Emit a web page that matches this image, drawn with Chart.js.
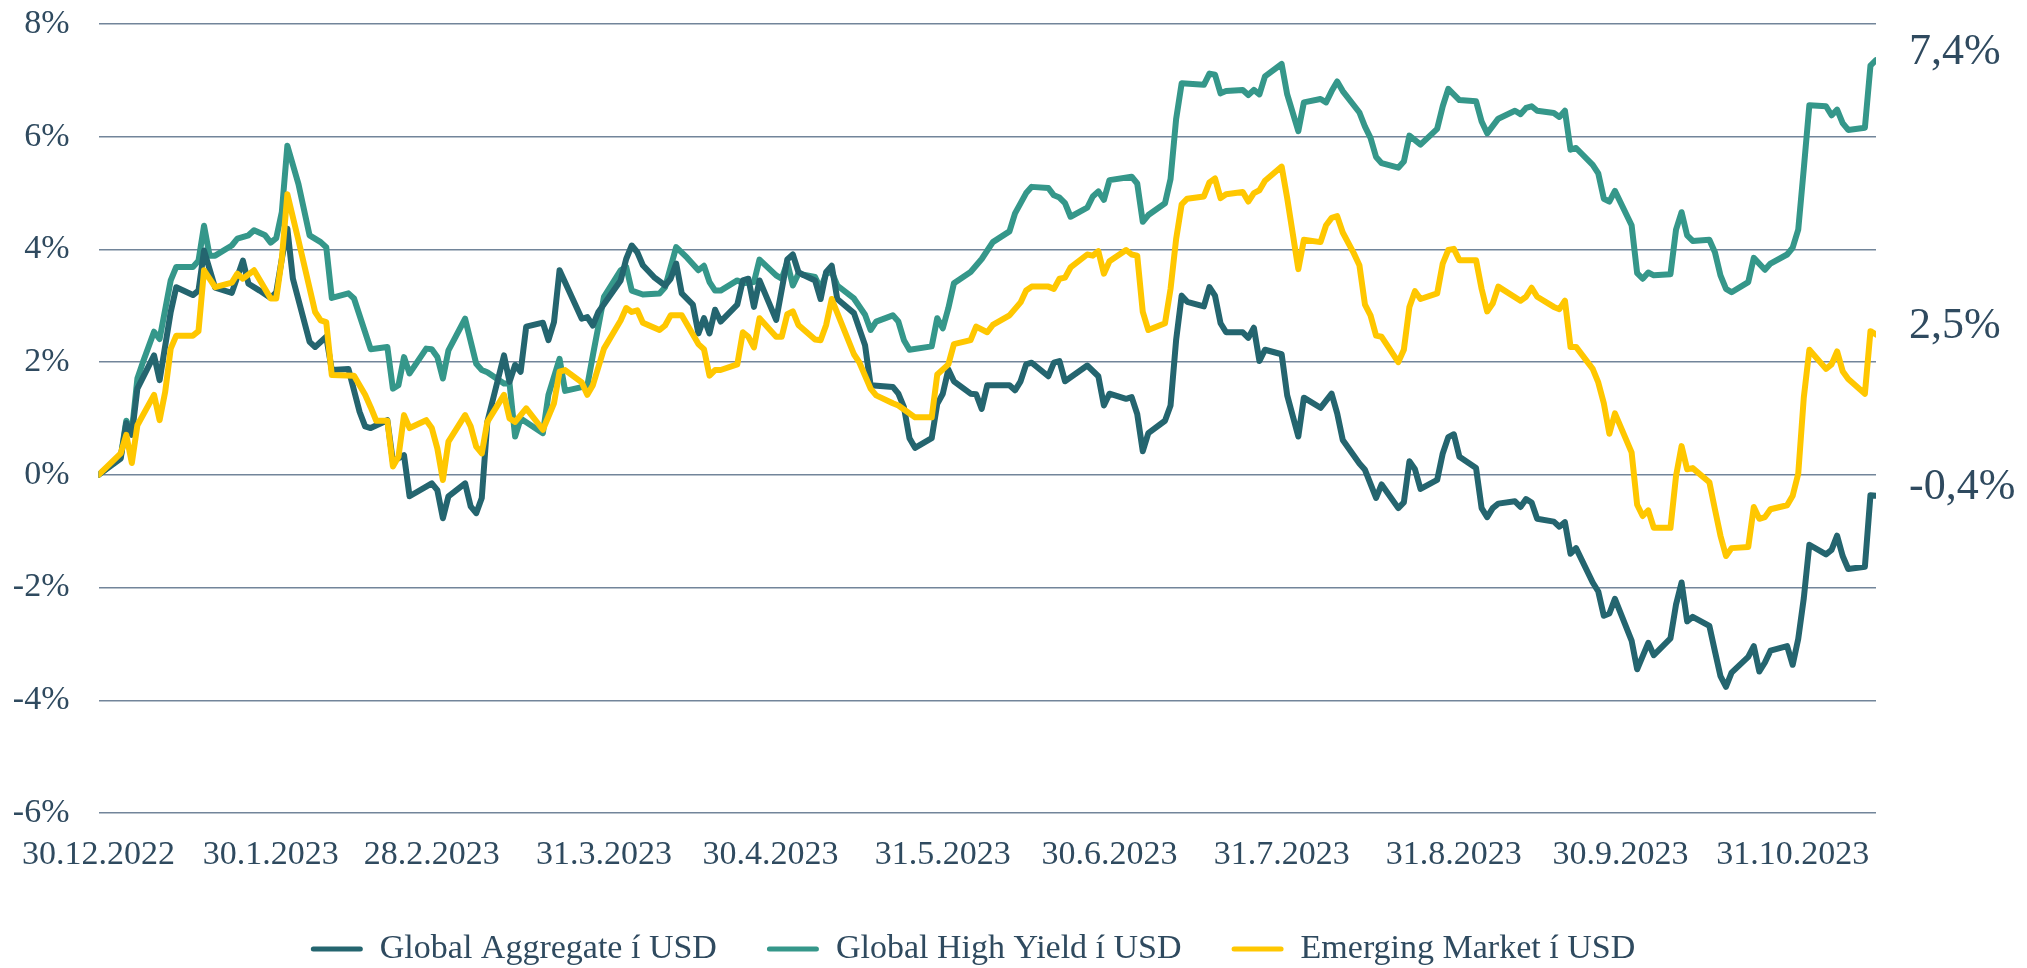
<!DOCTYPE html>
<html>
<head>
<meta charset="utf-8">
<script src="https://cdn.jsdelivr.net/npm/chart.js@4.4.1/dist/chart.umd.min.js"></script>
<style>
  html, body { margin: 0; padding: 0; background: #fff; overflow: hidden; }
</style>
</head>
<body>
<canvas id="chart" width="2027" height="968"></canvas>
<script>
// x = days after 30.12.2022, y = return in %
const globalAggregate = [[0,0],[4,0.29],[5,0.92],[6,0.71],[7,1.53],[10,2.12],[11,1.68],[13,2.89],[14,3.33],[17,3.19],[18,3.27],[19,3.98],[21,3.32],[24,3.23],[26,3.80],[27,3.39],[29,3.27],[31,3.14],[32,3.24],[33,3.83],[34,4.37],[35,3.48],[38,2.36],[39,2.27],[41,2.45],[42,1.86],[45,1.88],[47,1.12],[48,0.86],[49,0.83],[52,0.97],[53,0.24],[55,0.35],[56,-0.38],[60,-0.15],[61,-0.27],[62,-0.77],[63,-0.38],[66,-0.15],[67,-0.56],[68,-0.68],[69,-0.41],[70,0.94],[73,2.12],[74,1.65],[75,1.95],[76,1.83],[77,2.63],[80,2.70],[81,2.39],[82,2.71],[83,3.63],[87,2.77],[88,2.80],[89,2.65],[90,2.89],[94,3.45],[95,3.83],[96,4.07],[97,3.95],[98,3.72],[100,3.51],[102,3.36],[103,3.48],[104,3.75],[105,3.22],[107,3.02],[108,2.51],[109,2.78],[110,2.51],[111,2.93],[112,2.72],[115,3.02],[116,3.45],[117,3.48],[118,2.98],[119,3.45],[122,2.75],[124,3.82],[125,3.91],[126,3.60],[127,3.54],[129,3.45],[130,3.12],[131,3.60],[132,3.71],[133,3.12],[136,2.87],[138,2.30],[139,1.59],[143,1.56],[144,1.44],[145,1.20],[146,0.65],[147,0.48],[150,0.65],[151,1.26],[152,1.44],[153,1.87],[154,1.66],[157,1.44],[158,1.43],[159,1.17],[160,1.59],[164,1.59],[165,1.50],[166,1.66],[167,1.96],[168,1.99],[171,1.75],[172,1.99],[173,2.02],[174,1.66],[178,1.94],[180,1.75],[181,1.23],[182,1.44],[185,1.35],[186,1.38],[187,1.08],[188,0.42],[189,0.74],[192,0.96],[193,1.23],[194,2.39],[195,3.18],[196,3.07],[199,2.99],[200,3.33],[201,3.18],[202,2.69],[203,2.53],[206,2.53],[207,2.43],[208,2.61],[209,2.02],[210,2.22],[213,2.14],[214,1.41],[216,0.68],[217,1.37],[220,1.19],[222,1.44],[223,1.09],[224,0.62],[227,0.20],[228,0.09],[230,-0.41],[231,-0.17],[234,-0.59],[235,-0.49],[236,0.24],[237,0.10],[238,-0.25],[241,-0.09],[242,0.38],[243,0.67],[244,0.72],[245,0.32],[248,0.12],[249,-0.59],[250,-0.75],[251,-0.59],[252,-0.51],[255,-0.47],[256,-0.57],[257,-0.43],[258,-0.49],[259,-0.78],[262,-0.83],[263,-0.92],[264,-0.84],[265,-1.40],[266,-1.30],[269,-1.91],[270,-2.07],[271,-2.50],[272,-2.46],[273,-2.20],[276,-2.94],[277,-3.45],[279,-2.98],[280,-3.20],[283,-2.90],[284,-2.30],[285,-1.91],[286,-2.60],[287,-2.52],[290,-2.68],[291,-3.13],[292,-3.57],[293,-3.76],[294,-3.51],[297,-3.23],[298,-3.04],[299,-3.49],[300,-3.33],[301,-3.12],[304,-3.04],[305,-3.37],[306,-2.91],[307,-2.19],[308,-1.24],[311,-1.41],[312,-1.33],[313,-1.08],[314,-1.44],[315,-1.67],[318,-1.63],[319,-0.36],[320,-0.37]];

const globalHighYield = [[0,0],[4,0.32],[5,0.96],[6,0.77],[7,1.71],[8,2.0],[10,2.54],[11,2.41],[13,3.45],[14,3.69],[17,3.69],[18,3.80],[19,4.42],[20,3.89],[21,3.89],[24,4.07],[25,4.19],[27,4.25],[28,4.34],[30,4.25],[31,4.12],[32,4.2],[33,4.66],[34,5.84],[36,5.16],[38,4.25],[40,4.13],[41,4.04],[42,3.14],[45,3.22],[46,3.13],[49,2.23],[52,2.27],[53,1.53],[54,1.59],[55,2.09],[56,1.80],[59,2.24],[60,2.23],[61,2.09],[62,1.71],[63,2.21],[66,2.77],[68,1.97],[69,1.86],[70,1.82],[73,1.62],[74,1.62],[75,0.68],[76,1.0],[80,0.74],[81,1.42],[83,2.06],[84,1.49],[88,1.58],[89,2.12],[91,3.16],[94,3.63],[95,3.69],[96,3.27],[98,3.20],[101,3.22],[102,3.33],[104,4.04],[106,3.85],[108,3.63],[109,3.71],[110,3.42],[111,3.27],[112,3.27],[115,3.45],[116,3.40],[118,3.42],[119,3.82],[122,3.54],[123,3.48],[124,3.77],[125,3.36],[126,3.57],[129,3.51],[130,3.30],[131,3.57],[132,3.60],[133,3.36],[136,3.13],[138,2.84],[139,2.57],[140,2.72],[143,2.83],[144,2.72],[145,2.39],[146,2.22],[150,2.28],[151,2.78],[152,2.60],[153,2.96],[154,3.40],[157,3.60],[159,3.83],[161,4.13],[164,4.32],[165,4.64],[167,5.0],[168,5.11],[171,5.09],[172,4.96],[173,4.92],[174,4.82],[175,4.58],[178,4.74],[179,4.94],[180,5.03],[181,4.88],[182,5.23],[186,5.29],[187,5.17],[188,4.49],[189,4.61],[192,4.82],[193,5.25],[194,6.31],[195,6.95],[199,6.92],[200,7.12],[201,7.10],[202,6.77],[203,6.81],[206,6.83],[207,6.74],[208,6.83],[209,6.75],[210,7.07],[213,7.29],[214,6.75],[216,6.10],[217,6.61],[220,6.67],[221,6.61],[222,6.81],[223,6.98],[224,6.81],[227,6.43],[228,6.18],[229,5.98],[230,5.64],[231,5.53],[234,5.45],[235,5.56],[236,6.02],[238,5.86],[241,6.14],[242,6.54],[243,6.85],[245,6.65],[248,6.63],[249,6.27],[250,6.06],[252,6.32],[255,6.46],[256,6.40],[257,6.51],[258,6.54],[259,6.46],[262,6.42],[263,6.35],[264,6.46],[265,5.77],[266,5.80],[269,5.50],[270,5.35],[271,4.90],[272,4.85],[273,5.04],[276,4.43],[277,3.58],[278,3.48],[279,3.59],[280,3.54],[283,3.56],[284,4.35],[285,4.66],[286,4.25],[287,4.15],[290,4.17],[291,3.95],[292,3.54],[293,3.30],[294,3.24],[297,3.42],[298,3.85],[300,3.64],[301,3.75],[304,3.91],[305,4.03],[306,4.35],[307,5.43],[308,6.56],[311,6.54],[312,6.38],[313,6.48],[314,6.24],[315,6.12],[318,6.16],[319,7.26],[320,7.36]];

const emergingMarket = [[0,0],[4,0.38],[5,0.71],[6,0.21],[7,0.88],[10,1.42],[11,0.97],[12,1.47],[13,2.24],[14,2.47],[17,2.47],[18,2.55],[19,3.63],[21,3.33],[24,3.41],[25,3.57],[26,3.48],[28,3.63],[31,3.13],[32,3.13],[33,3.83],[34,4.98],[36,4.16],[39,2.89],[40,2.74],[41,2.71],[42,1.77],[46,1.76],[48,1.42],[49,1.20],[50,0.96],[52,0.96],[53,0.15],[54,0.32],[55,1.06],[56,0.83],[59,0.97],[60,0.83],[61,0.47],[62,-0.09],[63,0.59],[66,1.06],[67,0.86],[68,0.50],[69,0.38],[70,0.94],[73,1.42],[74,1.0],[75,0.94],[77,1.18],[80,0.80],[82,1.27],[83,1.83],[84,1.86],[87,1.64],[88,1.42],[89,1.59],[91,2.24],[94,2.74],[95,2.96],[96,2.89],[97,2.92],[98,2.70],[101,2.57],[102,2.65],[103,2.83],[105,2.83],[108,2.32],[109,2.23],[110,1.76],[111,1.86],[112,1.86],[115,1.96],[116,2.53],[117,2.45],[118,2.26],[119,2.78],[122,2.45],[123,2.45],[124,2.85],[125,2.90],[126,2.66],[129,2.40],[130,2.39],[131,2.66],[132,3.12],[136,2.14],[137,1.99],[139,1.53],[140,1.41],[143,1.27],[144,1.23],[147,1.02],[150,1.02],[151,1.78],[153,1.96],[154,2.32],[157,2.39],[158,2.63],[160,2.53],[161,2.66],[164,2.83],[166,3.06],[167,3.27],[168,3.34],[171,3.34],[172,3.30],[173,3.48],[174,3.50],[175,3.68],[178,3.91],[179,3.89],[180,3.97],[181,3.57],[182,3.79],[185,3.99],[186,3.91],[187,3.89],[188,2.89],[189,2.57],[192,2.69],[193,3.30],[194,4.18],[195,4.80],[196,4.90],[199,4.94],[200,5.19],[201,5.26],[202,4.91],[203,4.98],[206,5.02],[207,4.85],[208,5.0],[209,5.05],[210,5.22],[213,5.47],[214,4.91],[216,3.65],[217,4.17],[220,4.13],[221,4.43],[222,4.56],[223,4.59],[224,4.30],[226,3.93],[227,3.72],[228,3.02],[229,2.83],[230,2.47],[231,2.45],[234,2.0],[235,2.22],[236,2.98],[237,3.26],[238,3.12],[241,3.22],[242,3.75],[243,3.99],[244,4.01],[245,3.81],[248,3.81],[249,3.30],[250,2.90],[251,3.04],[252,3.34],[256,3.09],[257,3.16],[258,3.32],[259,3.16],[262,2.98],[263,2.94],[264,3.09],[265,2.27],[266,2.27],[269,1.88],[270,1.64],[271,1.27],[272,0.73],[273,1.09],[276,0.40],[277,-0.53],[278,-0.73],[279,-0.63],[280,-0.94],[283,-0.94],[284,-0.02],[285,0.51],[286,0.10],[287,0.12],[290,-0.13],[291,-0.61],[292,-1.08],[293,-1.44],[294,-1.30],[297,-1.28],[298,-0.57],[299,-0.78],[300,-0.75],[301,-0.61],[304,-0.54],[305,-0.37],[306,0.02],[307,1.37],[308,2.22],[311,1.88],[312,1.96],[313,2.19],[314,1.84],[315,1.70],[318,1.44],[319,2.55],[320,2.49]];

const seriesNames = ['Global Aggregate í USD', 'Global High Yield í USD', 'Emerging Market í USD'];
const tickDays = [0, 31, 60, 91, 121, 152, 182, 213, 244, 274, 305];
const tickLabels = ['30.12.2022', '30.1.2023', '28.2.2023', '31.3.2023', '30.4.2023', '31.5.2023', '30.6.2023', '31.7.2023', '31.8.2023', '30.9.2023', '31.10.2023'];

const textColor = '#2f4a5f';
const fontFamily = '"Liberation Serif", "DejaVu Serif", serif';

const toPoints = arr => arr.map(p => ({x: p[0], y: p[1]}));

// value labels at the right end of each line
const endLabels = {
    id: 'endLabels',
    afterDatasetsDraw(chart) {
        const {ctx, chartArea} = chart;
        ctx.save();
        ctx.font = '44px ' + fontFamily;
        ctx.fillStyle = textColor;
        ctx.textAlign = 'left';
        ctx.textBaseline = 'middle';
        chart.data.datasets.forEach((ds, i) => {
            const pts = chart.getDatasetMeta(i).data;
            const last = pts[pts.length - 1];
            const v = ds.data[ds.data.length - 1].y;
            ctx.fillText(v.toFixed(1).replace('.', ',') + '%', chartArea.right + 33, last.y - 8);
        });
        ctx.restore();
    }
};

const lineStyle = {
    borderWidth: 6,
    pointRadius: 0,
    pointHoverRadius: 0,
    tension: 0,
    borderJoinStyle: 'round',
    borderCapStyle: 'round',
    yAxisID: 'y'
};

const ctx = document.getElementById('chart');
const chart = new Chart(ctx, {
    type: 'line',
    data: {
        datasets: [{
            ...lineStyle,
            label: seriesNames[0],
            data: toPoints(globalAggregate),
            borderColor: '#24656f',
            backgroundColor: '#24656f',
            order: 1
        },
        {
            ...lineStyle,
            label: seriesNames[1],
            data: toPoints(globalHighYield),
            borderColor: '#35978a',
            backgroundColor: '#35978a',
            order: 2
        },
        {
            ...lineStyle,
            label: seriesNames[2],
            data: toPoints(emergingMarket),
            borderColor: '#ffc700',
            backgroundColor: '#ffc700',
            order: 0
        }]
    },
    plugins: [endLabels],
    options: {
        responsive: false,
        animation: false,
        layout: {
            padding: {top: 24, left: 0, right: 81, bottom: -8}
        },
        plugins: {
            tooltip: {enabled: false},
            legend: {
                position: 'bottom',
                labels: {
                    font: {family: fontFamily, size: 34},
                    color: textColor,
                    boxWidth: 52,
                    boxHeight: 5,
                    padding: 50,
                    useBorderRadius: true,
                    borderRadius: 2.5,
                    sort: (a, b) => a.datasetIndex - b.datasetIndex,
                    generateLabels: c => Chart.defaults.plugins.legend.labels.generateLabels(c)
                        .map(l => ({...l, lineWidth: 0}))
                }
            }
        },
        scales: {
            x: {
                type: 'linear',
                min: 0,
                max: 320,
                grid: {display: false, drawTicks: false},
                border: {display: false},
                afterBuildTicks: s => { s.ticks = tickDays.map(d => ({value: d})); },
                afterFit: s => { s.height = 69; },
                ticks: {
                    autoSkip: false,
                    maxRotation: 0,
                    padding: 22,
                    color: textColor,
                    font: {family: fontFamily, size: 34},
                    callback: (v, i) => tickLabels[i]
                }
            },
            y: {
                position: 'left',
                min: -6,
                max: 8,
                grid: {color: '#72859a', lineWidth: 1.5, drawTicks: false},
                border: {display: false},
                afterFit: s => { s.width = 98; s.paddingTop = 0; s.paddingBottom = 0; },
                ticks: {
                    stepSize: 2,
                    padding: 29,
                    color: textColor,
                    font: {family: fontFamily, size: 34},
                    callback: v => v + '%'
                }
            },
            yRight: {
                position: 'right',
                grid: {display: false, drawTicks: false},
                border: {display: false},
                ticks: {display: false},
                afterFit: s => { s.width = 70; }
            }
        }
    }
});
</script>
</body>
</html>
